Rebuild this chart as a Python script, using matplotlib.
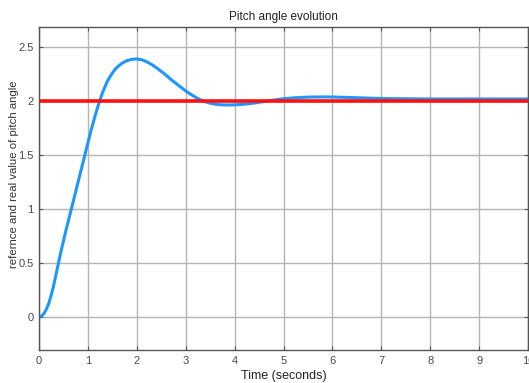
import numpy as np
import matplotlib.pyplot as plt

plt.rcParams['font.family'] = ['Liberation Sans', 'DejaVu Sans']

# simulated pitch response
t = [0, 0.05, 0.1, 0.15, 0.2, 0.25, 0.3, 0.35, 0.4, 0.45, 0.5, 0.55, 0.6,
     0.65, 0.7, 0.75, 0.8, 0.85, 0.9, 0.95, 1.0, 1.05, 1.1, 1.15, 1.2,
     1.25, 1.3, 1.35, 1.4, 1.45, 1.5, 1.55, 1.6, 1.7, 1.8, 1.9, 2.0, 2.1,
     2.2, 2.3, 2.4, 2.5, 2.6, 2.7, 2.8, 2.9, 3.0, 3.1, 3.2, 3.3, 3.4, 3.5,
     3.6, 3.7, 3.8, 3.9, 4.0, 4.2, 4.4, 4.6, 4.8, 5.0, 5.2, 5.4, 5.6, 5.8,
     6.0, 6.4, 6.8, 7.2, 8.0, 9.0, 10.0]
pitch = [0, 0.012, 0.035, 0.075, 0.13, 0.205, 0.295, 0.40, 0.505, 0.61,
         0.705, 0.80, 0.89, 0.98, 1.07, 1.16, 1.25, 1.34, 1.43, 1.52, 1.61,
         1.70, 1.785, 1.865, 1.94, 2.01, 2.075, 2.13, 2.18, 2.22, 2.255,
         2.285, 2.31, 2.347, 2.37, 2.382, 2.385, 2.378, 2.36, 2.335, 2.305,
         2.27, 2.235, 2.195, 2.16, 2.125, 2.09, 2.06, 2.032, 2.008, 1.99,
         1.977, 1.968, 1.963, 1.961, 1.961, 1.962, 1.968, 1.978, 1.992,
         2.006, 2.018, 2.026, 2.031, 2.034, 2.035, 2.034, 2.029, 2.023,
         2.019, 2.016, 2.016, 2.016]
t_ref = [0, 10]
ref = [2, 2]

fig = plt.figure(figsize=(5.29, 3.83), dpi=100)
ax = fig.add_axes([0.0737, 0.0862, 0.9245, 0.8433])

ax.plot(t, pitch, color='#1e96ff', lw=2.2, solid_capstyle='round',
        solid_joinstyle='round')
ax.plot(t_ref, ref, color='#ff1010', lw=2.6)

ax.set_xlim(0, 10)
ax.set_ylim(-0.3, 2.68)
ax.set_xticks(range(0, 11))
ax.set_yticks([0, 0.5, 1, 1.5, 2, 2.5])
ax.set_yticklabels(['0', '0.5', '1', '1.5', '2', '2.5'])

ax.grid(True, color='#b4b4b4', lw=1.0)
ax.tick_params(direction='in', length=3, width=0.8, colors='#555555',
               labelsize=8, top=True, right=True, pad=4)
ax.tick_params(axis='both', labelcolor='#4a4a4a')
for s in ax.spines.values():
    s.set_color('#555555')
    s.set_linewidth(1.0)

ax.set_title('Pitch angle evolution', fontsize=8.5, color='#222222', pad=5)
ax.set_xlabel('Time (seconds)', fontsize=9, color='#222222', labelpad=3)
ax.set_ylabel('refernce and real value of pitch angle', fontsize=8.2,
              color='#333333')
ax.yaxis.set_label_coords(-0.040, 0.545)

fig.savefig('out.png', dpi=100)
